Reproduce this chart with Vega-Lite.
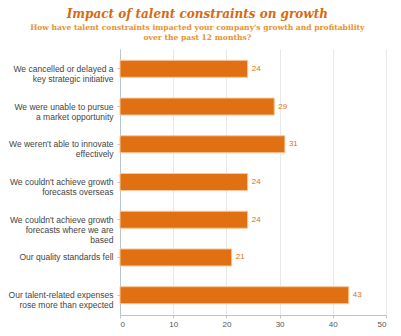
{
  "$schema": "https://vega.github.io/schema/vega-lite/v6.json",
  "autosize": {"type": "fit", "contains": "padding"},
  "width": 401,
  "height": 336,
  "padding": {"left": 8, "right": 14, "top": 8, "bottom": 8},
  "background": "white",
  "title": {
    "text": "Impact of talent constraints on growth",
    "subtitle": ["How have talent constraints impacted your company's growth and profitability", "over the past 12 months?"],
    "frame": "bounds",
    "font": "DejaVu Serif",
    "fontSize": 12,
    "fontStyle": "italic",
    "fontWeight": "bold",
    "color": "#D9690E",
    "subtitleFont": "DejaVu Serif",
    "subtitleFontSize": 7.6,
    "subtitleFontWeight": "bold",
    "subtitleColor": "#E8922E",
    "subtitleLineHeight": 10,
    "anchor": "middle",
    "offset": 6
  },
  "data": {
    "values": [
      {"reason": "We cancelled or delayed a key strategic initiative", "pct": 24},
      {"reason": "We were unable to pursue a market opportunity", "pct": 29},
      {"reason": "We weren't able to innovate effectively", "pct": 31},
      {"reason": "We couldn't achieve growth forecasts overseas", "pct": 24},
      {"reason": "We couldn't achieve growth forecasts where we are based", "pct": 24},
      {"reason": "Our quality standards fell", "pct": 21},
      {"reason": "Our talent-related expenses rose more than expected", "pct": 43}
    ]
  },
  "encoding": {
    "y": {
      "field": "reason",
      "type": "nominal",
      "sort": null,
      "title": null,
      "scale": {"paddingInner": 0.55, "paddingOuter": 0.3},
      "axis": {
        "labelFont": "Liberation Sans",
        "labelFontSize": 8.5,
        "labelColor": "#444444",
        "labelLineHeight": 10,
        "labelPadding": 4,
        "domainColor": "#B8C4D0",
        "tickColor": "#B8C4D0",
        "tickSize": 3,
        "labelLimit": 200,
        "labelExpr": "datum.value == 'We cancelled or delayed a key strategic initiative' ? ['We cancelled or delayed a', 'key strategic initiative'] : datum.value == 'We were unable to pursue a market opportunity' ? ['We were unable to pursue', 'a market opportunity'] : datum.value == \"We weren't able to innovate effectively\" ? [\"We weren't able to innovate\", 'effectively'] : datum.value == \"We couldn't achieve growth forecasts overseas\" ? [\"We couldn't achieve growth\", 'forecasts overseas'] : datum.value == \"We couldn't achieve growth forecasts where we are based\" ? [\"We couldn't achieve growth\", 'forecasts where we are', 'based'] : datum.value == 'Our talent-related expenses rose more than expected' ? ['Our talent-related expenses', 'rose more than expected'] : datum.value"
      }
    }
  },
  "layer": [
    {
      "mark": {"type": "bar", "color": "#E07012", "stroke": "#F6C89C", "strokeWidth": 1},
      "encoding": {
        "x": {
          "field": "pct",
          "type": "quantitative",
          "title": null,
          "scale": {"domain": [0, 50]},
          "axis": {
            "values": [0, 10, 20, 30, 40, 50],
            "labelFont": "Liberation Sans",
            "labelFontSize": 8,
            "labelColor": "#555555",
            "domainColor": "#B8C4D0",
            "tickColor": "#B8C4D0",
            "gridColor": "#E8E8E8",
            "tickSize": 3
          }
        }
      }
    },
    {
      "mark": {"type": "text", "align": "left", "dx": 4, "font": "Liberation Sans", "fontSize": 8, "color": "#E07012"},
      "encoding": {
        "x": {"field": "pct", "type": "quantitative"},
        "text": {"field": "pct", "type": "quantitative"}
      }
    }
  ],
  "config": {"view": {"stroke": null}}
}
